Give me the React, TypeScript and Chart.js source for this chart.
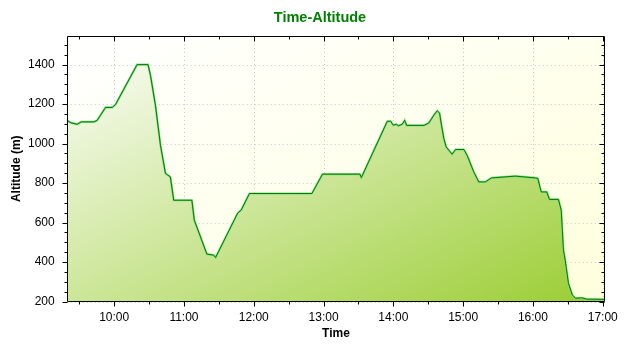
import React, { useEffect, useRef } from "react";
import { Chart, registerables } from "chart.js";

Chart.register(...registerables);

// ---- data ----
const times: string[] = [
  "09:19:12", "09:23:06", "09:28:18", "09:31:42", "09:42:36", "09:45:24", "09:52:36", "09:58:18",
  "10:01:12", "10:19:42", "10:29:06", "10:31:12", "10:35:30", "10:39:48", "10:44:06", "10:48:18",
  "10:51:12", "11:06:48", "11:08:54", "11:19:42", "11:25:24", "11:27:12", "11:46:18", "11:49:12",
  "11:56:18", "12:50:00", "12:59:06", "13:31:12", "13:32:30", "13:54:48", "13:57:42", "14:00:00",
  "14:02:30", "14:04:18", "14:07:42", "14:09:42", "14:11:24", "14:26:18", "14:30:36", "14:34:48",
  "14:37:42", "14:39:42", "14:41:24", "14:43:24", "14:45:24", "14:50:30", "14:53:24", "15:00:36",
  "15:03:24", "15:09:06", "15:13:24", "15:19:12", "15:24:18", "15:44:54", "16:02:00", "16:04:12",
  "16:07:06", "16:11:54", "16:14:12", "16:21:54", "16:24:18", "16:26:12", "16:27:42", "16:30:30",
  "16:33:54", "16:36:48", "16:41:54", "16:46:12", "16:59:06", "17:02:12",
];
const altitudes: number[] = [
  1118, 1105, 1098, 1110, 1110, 1118, 1183, 1183,
  1198, 1400, 1400, 1346, 1194, 992, 849, 831,
  713, 713, 612, 440, 435, 423, 649, 663,
  747, 747, 845, 845, 828, 1113, 1113, 1093,
  1098, 1090, 1098, 1118, 1092, 1092, 1105, 1144,
  1166, 1155, 1093, 1026, 983, 946, 970, 970,
  941, 857, 806, 806, 826, 835, 826, 823,
  755, 755, 717, 717, 663, 460, 410, 292,
  232, 216, 219, 212, 211, 211,
];
const xTickLabels: string[] = ["10:00", "11:00", "12:00", "13:00", "14:00", "15:00", "16:00", "17:00"];
const xMinorLabels: string[] = ["09:30", "10:30", "11:30", "12:30", "13:30", "14:30", "15:30", "16:30"];
const xRange: string[] = ["09:19:12", "17:02:12"];
const yTicks: number[] = [200, 400, 600, 800, 1000, 1200, 1400];
const yMinorStep = 50;
const yRange: number[] = [200, 1545];
const titleText = "Time-Altitude";
const xTitleText = "Time";
const yTitleText = "Altitude (m)";

function toMin(s: string): number {
  const p = s.split(":").map(Number);
  return p[0] * 60 + p[1] + (p[2] || 0) / 60;
}
function fmt(v: number): string {
  const h = Math.floor(v / 60);
  const m = Math.round(v - h * 60);
  return `${h}:${m < 10 ? "0" + m : m}`;
}

const FONT = "'Liberation Sans', Arial, sans-serif";

function diagGradient(ctx: CanvasRenderingContext2D, x0: number, y0: number, w: number, h: number, c0: string, c1: string) {
  const k = (2 * w * h) / (w * w + h * h);
  const g = ctx.createLinearGradient(x0, y0, x0 + k * h, y0 + k * w);
  g.addColorStop(0, c0);
  g.addColorStop(1, c1);
  return g;
}

const decorPlugin = {
  id: "decor",
  beforeDraw(chart: any) {
    const { ctx, chartArea: a } = chart;
    ctx.save();
    ctx.fillStyle = diagGradient(ctx, a.left, a.top, a.right - a.left, a.bottom - a.top, "#ffffff", "#ffffdc");
    ctx.fillRect(a.left, a.top, a.right - a.left, a.bottom - a.top);
    // dotted grid
    ctx.strokeStyle = "#c8c8c8";
    ctx.lineWidth = 1;
    ctx.setLineDash([1, 3]);
    const xs = chart.scales.x, ys = chart.scales.y;
    xTickLabels.forEach((t) => {
      const px = Math.round(xs.getPixelForValue(toMin(t))) + 0.5;
      ctx.beginPath(); ctx.moveTo(px, a.top); ctx.lineTo(px, a.bottom); ctx.stroke();
    });
    yTicks.forEach((v) => {
      const py = Math.round(ys.getPixelForValue(v)) + 0.5;
      ctx.beginPath(); ctx.moveTo(a.left, py); ctx.lineTo(a.right, py); ctx.stroke();
    });
    ctx.restore();
  },
  afterDraw(chart: any) {
    const { ctx, chartArea: a } = chart;
    const xs = chart.scales.x, ys = chart.scales.y;
    ctx.save();
    ctx.strokeStyle = "#000";
    ctx.lineWidth = 1;
    ctx.setLineDash([]);
    const L = Math.round(a.left) + 0.5, R = Math.round(a.right) - 0.5;
    const T = Math.round(a.top) + 0.5, B = Math.round(a.bottom) - 0.5;
    ctx.beginPath();
    ctx.rect(L, T, R - L, B - T);
    ctx.stroke();
    const line = (x1: number, y1: number, x2: number, y2: number) => {
      ctx.beginPath(); ctx.moveTo(x1, y1); ctx.lineTo(x2, y2); ctx.stroke();
    };
    xTickLabels.forEach((t) => {
      const px = Math.round(xs.getPixelForValue(toMin(t))) + 0.5;
      line(px, B, px, B + 5);
      line(px, T, px, T + 5);
    });
    xMinorLabels.forEach((t) => {
      const px = Math.round(xs.getPixelForValue(toMin(t))) + 0.5;
      line(px, B, px, B + 3);
      line(px, T, px, T + 3);
    });
    for (let v = yRange[0]; v <= yRange[1]; v += yMinorStep) {
      const py = Math.round(ys.getPixelForValue(v)) + 0.5;
      const major = yTicks.indexOf(v) >= 0;
      const len = major ? 5 : 3;
      line(L - len, py, L, py);
      line(R - len, py, R, py);
    }
    // titles
    ctx.textAlign = "center";
    ctx.textBaseline = "middle";
    ctx.fillStyle = "#008000";
    ctx.font = `bold 14.5px ${FONT}`;
    ctx.fillText(titleText, 320, 18);
    ctx.fillStyle = "#000";
    ctx.font = `bold 12px ${FONT}`;
    ctx.fillText(xTitleText, (a.left + a.right) / 2, 333.5);
    ctx.translate(17, (a.top + a.bottom) / 2);
    ctx.rotate(-Math.PI / 2);
    ctx.fillText(yTitleText, 0, 0);
    ctx.restore();
  },
};

export default function App() {
  const ref = useRef<HTMLCanvasElement | null>(null);
  useEffect(() => {
    if (!ref.current) return;
    const pts = times.map((t, i) => ({ x: toMin(t), y: altitudes[i] }));
    const chart = new Chart(ref.current, {
      type: "line",
      data: {
        datasets: [
          {
            data: pts,
            borderColor: "#007a00",
            borderWidth: 1,
            pointRadius: 0,
            tension: 0,
            fill: false,
          },
          {
            data: pts,
            borderColor: "#80dc80",
            borderWidth: 2.2,
            pointRadius: 0,
            tension: 0,
            fill: "start",
            backgroundColor: (c: any) => {
              const a = c.chart.chartArea;
              if (!a) return "rgba(0,0,0,0)";
              return diagGradient(c.chart.ctx, a.left, a.top, a.right - a.left, a.bottom - a.top, "#ffffff", "#9acd32");
            },
          },
        ],
      },
      options: {
        responsive: false,
        animation: false,
        events: [],
        layout: { padding: { top: 36, right: 34.7, left: 0, bottom: 0 } },
        plugins: { legend: { display: false }, title: { display: false }, tooltip: { enabled: false } },
        scales: {
          x: {
            type: "linear",
            min: toMin(xRange[0]),
            max: toMin(xRange[1]),
            afterBuildTicks: (s: any) => { s.ticks = xTickLabels.map((t) => ({ value: toMin(t) })); },
            afterFit: (s: any) => { s.height = 48.5; },
            grid: { display: false, drawTicks: true, tickLength: 5 },
            border: { display: false },
            ticks: {
              padding: 4,
              maxRotation: 0,
              autoSkip: false,
              color: "#000",
              font: { family: FONT, size: 12 },
              callback: (v: any) => fmt(Number(v)),
            },
          },
          y: {
            type: "linear",
            min: yRange[0],
            max: yRange[1],
            afterBuildTicks: (s: any) => { s.ticks = yTicks.map((v) => ({ value: v })); },
            afterFit: (s: any) => { s.width = 66.7; },
            grid: { display: false, drawTicks: true, tickLength: 6 },
            border: { display: false },
            ticks: {
              padding: 6,
              autoSkip: false,
              color: "#000",
              font: { family: FONT, size: 12 },
              callback: (v: any) => String(v),
            },
          },
        },
      },
      plugins: [decorPlugin],
    } as any);
    return () => chart.destroy();
  }, []);
  return (
    <div style={{ position: "absolute", left: 0, top: 0, width: 640, height: 350, background: "#fff" }}>
      <canvas ref={ref} width={640} height={350} style={{ display: "block" }} />
    </div>
  );
}
